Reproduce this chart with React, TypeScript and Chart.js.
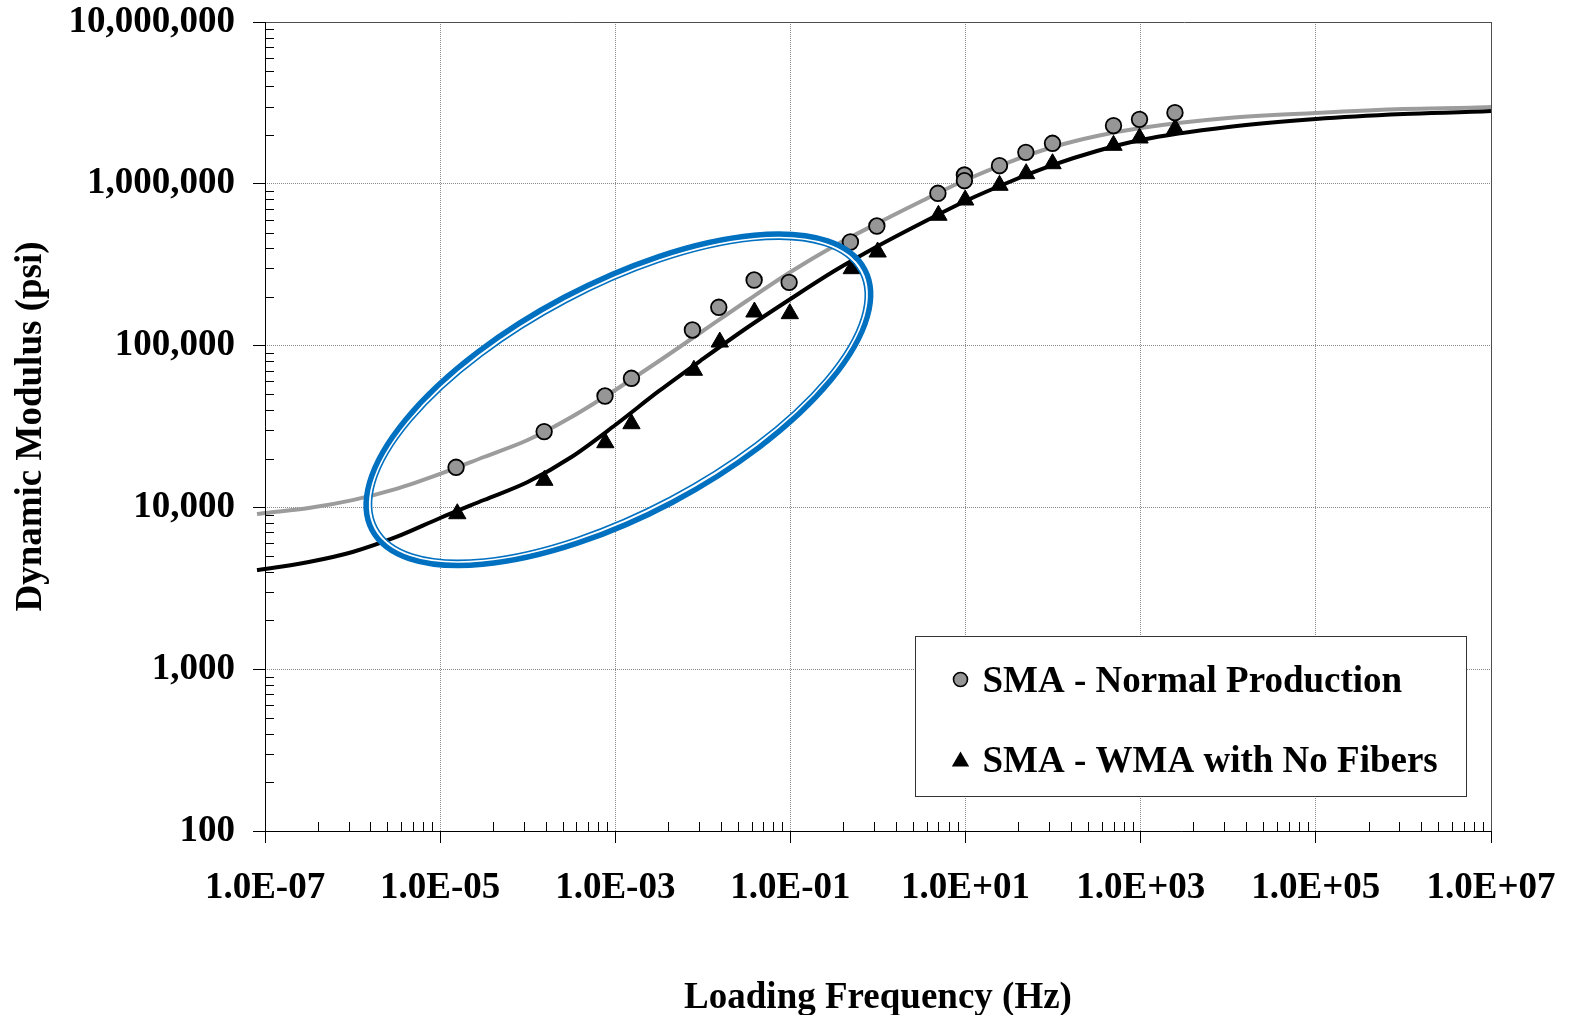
import { useEffect, useRef } from "react";
import { Chart, registerables } from "chart.js";

Chart.register(...registerables);

// ---- data -------------------------------------------------------------
const NP_LABEL = "SMA - Normal Production";
const WMA_LABEL = "SMA - WMA with No Fibers";

// measured dynamic modulus (psi) vs reduced loading frequency (Hz)
const NP_FREQ = [1.52e-5, 1.54e-4, 7.63e-4, 1.53e-3, 7.6e-3, 0.0152, 0.0385, 0.0966, 0.484, 0.97, 4.83, 9.7, 9.7, 24.4, 48.8, 98.3, 489, 969, 2460];
const NP_MOD = [17700, 29400, 48800, 62800, 124900, 172500, 254300, 246000, 436800, 548400, 873600, 1133000, 1045000, 1294000, 1565000, 1780000, 2286000, 2503000, 2750000];

const WMA_FREQ = [1.57e-5, 1.55e-4, 7.7e-4, 1.53e-3, 7.9e-3, 0.0156, 0.0388, 0.0984, 0.502, 0.99, 4.9, 9.9, 24.4, 49.2, 98.4, 489, 969, 2477];
const WMA_MOD = [9140, 14700, 25100, 32900, 70380, 105200, 161300, 157500, 298800, 378800, 638900, 794000, 979000, 1155000, 1331000, 1729000, 1919000, 2190000];

// fitted master curves
const FIT_FREQ = [8.1e-8, 1e-7, 3.16e-7, 1e-6, 3.16e-6, 1e-5, 3.16e-5, 1e-4, 3.16e-4, 1e-3, 3.16e-3, 1e-2, 3.16e-2, 0.1, 0.316, 1, 3.16, 10, 31.6, 100, 316, 1000, 1e4, 1e5, 1e6, 1e7, 1.21e7];
const NP_FIT_MOD = [9103, 9235, 9915, 11095, 13005, 16091, 20489, 26098, 36210, 53182, 80316, 123110, 188680, 284970, 412680, 572410, 783040, 1055600, 1363600, 1688300, 1974300, 2212400, 2550800, 2739000, 2899600, 2983300, 3004600];
const WMA_FIT_MOD = [4103, 4162, 4597, 5302, 6565, 8598, 11108, 14355, 20489, 32300, 52430, 82640, 128480, 194130, 289060, 412680, 572410, 783040, 1025900, 1307100, 1594900, 1865000, 2244100, 2514700, 2700300, 2818100, 2838200];

// axis ticks
const X_TICKS = [1e-7, 1e-5, 1e-3, 1e-1, 1e1, 1e3, 1e5, 1e7];
const X_TICK_LABELS = ["1.0E-07", "1.0E-05", "1.0E-03", "1.0E-01", "1.0E+01", "1.0E+03", "1.0E+05", "1.0E+07"];
const Y_TICKS = [100, 1000, 10000, 100000, 1000000, 10000000];
const Y_TICK_LABELS = ["100", "1,000", "10,000", "100,000", "1,000,000", "10,000,000"];

// highlighted low-frequency region: ends of the ellipse's long axis
const HIGHLIGHT_FREQ = [1.667e-6, 0.706];
const HIGHLIGHT_MOD = [7251, 295300];

// ---- styling ----------------------------------------------------------
const FONT_FAMILY = "'Liberation Serif', 'Times New Roman', Times, serif";
const GRAY = "#9c9c9c";
const MARKER_GRAY = "#969696";
const BLUE = "#0070c0";

const toPoints = (xs: number[], ys: number[]) => xs.map((x, i) => ({ x, y: ys[i] }));

const clearPadding = (scale: any) => {
  scale.paddingTop = 0;
  scale.paddingBottom = 0;
  scale.paddingLeft = 0;
  scale.paddingRight = 0;
};

const axisDecorations = {
  id: "axisDecorations",
  afterDatasetsDraw(chart: any) {
    const { ctx, chartArea: ca } = chart;
    const xs = chart.scales.x;
    const ys = chart.scales.y;
    ctx.save();
    ctx.lineWidth = 1;
    // top and right frame
    ctx.strokeStyle = "#4d4d4d";
    ctx.beginPath();
    ctx.moveTo(ca.left, Math.round(ca.top) + 0.5);
    ctx.lineTo(ca.right, Math.round(ca.top) + 0.5);
    ctx.moveTo(Math.round(ca.right) + 0.5, ca.top);
    ctx.lineTo(Math.round(ca.right) + 0.5, ca.bottom);
    ctx.stroke();
    // axis lines
    ctx.strokeStyle = "#000";
    ctx.beginPath();
    ctx.moveTo(Math.round(ca.left) + 0.5, ca.top);
    ctx.lineTo(Math.round(ca.left) + 0.5, ca.bottom);
    ctx.moveTo(ca.left - 12, Math.round(ca.bottom) + 0.5);
    ctx.lineTo(ca.right, Math.round(ca.bottom) + 0.5);
    ctx.stroke();
    // minor ticks, pointing into the plot
    ctx.beginPath();
    for (let e = -7; e < 7; e += 2) {
      for (let k = 2; k <= 9; k++) {
        const px = Math.round(xs.getPixelForValue(Math.pow(10, e) * k * k)) + 0.5;
        ctx.moveTo(px, ca.bottom);
        ctx.lineTo(px, ca.bottom - 9);
      }
    }
    for (let e = 2; e < 7; e++) {
      for (let k = 2; k <= 9; k++) {
        const py = Math.round(ys.getPixelForValue(Math.pow(10, e) * k)) + 0.5;
        ctx.moveTo(ca.left, py);
        ctx.lineTo(ca.left + 9, py);
      }
    }
    ctx.stroke();
    ctx.restore();
  },
};

const highlightEllipse = {
  id: "highlightEllipse",
  afterDatasetsDraw(chart: any) {
    const { ctx } = chart;
    const xs = chart.scales.x;
    const ys = chart.scales.y;
    const x1 = xs.getPixelForValue(HIGHLIGHT_FREQ[0]);
    const y1 = ys.getPixelForValue(HIGHLIGHT_MOD[0]);
    const x2 = xs.getPixelForValue(HIGHLIGHT_FREQ[1]);
    const y2 = ys.getPixelForValue(HIGHLIGHT_MOD[1]);
    const cx = (x1 + x2) / 2;
    const cy = (y1 + y2) / 2;
    const a = Math.hypot(x2 - x1, y2 - y1) / 2;
    const ang = Math.atan2(y2 - y1, x2 - x1);
    const b = 115.9;
    const ring = (ra: number, rb: number, w: number, color: string) => {
      ctx.beginPath();
      ctx.ellipse(cx, cy, ra, rb, ang, 0, Math.PI * 2);
      ctx.lineWidth = w;
      ctx.strokeStyle = color;
      ctx.stroke();
    };
    ctx.save();
    ring(a - 3.8, b - 3.8, 2.4, "#ffffff");
    ring(a, b, 5.5, BLUE);
    ring(a - 5.6, b - 5.6, 1.6, BLUE);
    ctx.restore();
  },
};

const boxLegend = {
  id: "boxLegend",
  afterDraw(chart: any) {
    const { ctx, chartArea: ca } = chart;
    const left = Math.round(ca.left + 650) + 0.5;
    const top = Math.round(ca.top + 614) + 0.5;
    const w = 551;
    const h = 160;
    ctx.save();
    ctx.fillStyle = "#fff";
    ctx.fillRect(left, top, w, h);
    ctx.strokeStyle = "#333";
    ctx.lineWidth = 1;
    ctx.strokeRect(left, top, w, h);

    const mx = left + 45;
    const y1 = top + 43;
    const y2 = top + 123;
    // circle marker
    ctx.beginPath();
    ctx.arc(mx, y1, 7, 0, Math.PI * 2);
    ctx.fillStyle = MARKER_GRAY;
    ctx.fill();
    ctx.lineWidth = 1.6;
    ctx.strokeStyle = "#000";
    ctx.stroke();
    // triangle marker
    const r = 10;
    ctx.beginPath();
    for (let i = 0; i < 3; i++) {
      const t = (i * 2 * Math.PI) / 3;
      const px = mx + Math.sin(t) * r;
      const py = y2 + 2 - Math.cos(t) * r;
      if (i === 0) ctx.moveTo(px, py);
      else ctx.lineTo(px, py);
    }
    ctx.closePath();
    ctx.fillStyle = "#000";
    ctx.fill();

    ctx.fillStyle = "#000";
    ctx.font = `bold 37px ${FONT_FAMILY}`;
    ctx.textBaseline = "middle";
    ctx.textAlign = "left";
    ctx.fillText(NP_LABEL, left + 67, y1 + 3);
    ctx.fillText(WMA_LABEL, left + 67, y2 + 3);
    ctx.restore();
  },
};

export default function App() {
  const canvasRef = useRef<HTMLCanvasElement | null>(null);

  useEffect(() => {
    const canvas = canvasRef.current;
    if (!canvas) return;
    const tickFont = { family: FONT_FAMILY, size: 37, weight: "bold" as const, lineHeight: 1 };
    const xTitleFont = { family: FONT_FAMILY, size: 37, weight: "bold" as const, lineHeight: 0.88 };
    const yTitleFont = { family: FONT_FAMILY, size: 37, weight: "bold" as const, lineHeight: 1.2 };

    const chart = new Chart(canvas, {
      type: "scatter",
      data: {
        datasets: [
          {
            label: NP_LABEL,
            data: toPoints(NP_FREQ, NP_MOD),
            pointStyle: "circle",
            pointRadius: 7.8,
            pointBorderWidth: 1.8,
            backgroundColor: MARKER_GRAY,
            borderColor: "#000",
            showLine: false,
            order: 0,
          },
          {
            label: WMA_LABEL,
            data: toPoints(WMA_FREQ, WMA_MOD),
            pointStyle: "triangle",
            pointRadius: 10,
            pointBorderWidth: 1,
            backgroundColor: "#000",
            borderColor: "#000",
            showLine: false,
            order: 1,
          },
          {
            label: WMA_LABEL + " fit",
            data: toPoints(FIT_FREQ, WMA_FIT_MOD),
            showLine: true,
            pointRadius: 0,
            borderColor: "#000",
            borderWidth: 4,
            cubicInterpolationMode: "monotone",
            clip: 10,
            order: 2,
          },
          {
            label: NP_LABEL + " fit",
            data: toPoints(FIT_FREQ, NP_FIT_MOD),
            showLine: true,
            pointRadius: 0,
            borderColor: GRAY,
            borderWidth: 4,
            cubicInterpolationMode: "monotone",
            clip: 10,
            order: 3,
          },
        ],
      },
      options: {
        animation: false,
        responsive: false,
        devicePixelRatio: 1,
        layout: { padding: { top: 22, right: 78, bottom: 0, left: 0 } },
        plugins: {
          legend: { display: false },
          tooltip: { enabled: false },
        },
        scales: {
          x: {
            type: "logarithmic",
            position: "bottom",
            min: 1e-7,
            max: 1e7,
            afterBuildTicks: (scale: any) => {
              scale.ticks = X_TICKS.map((value) => ({ value }));
            },
            afterFit: (scale: any) => {
              scale.height = 184;
              clearPadding(scale);
            },
            ticks: {
              autoSkip: false,
              maxRotation: 0,
              minRotation: 0,
              padding: 27,
              color: "#000",
              font: tickFont,
              callback: (_v: any, i: number) => X_TICK_LABELS[i],
            },
            grid: {
              color: "#8a8a8a",
              lineWidth: 1,
              tickLength: 12,
              tickColor: "#000",
              tickWidth: 1,
              borderDash: [1, 1],
            } as any,
            border: { display: false, dash: [1, 1] } as any,
            title: {
              display: true,
              text: "Loading Frequency (Hz)",
              color: "#000",
              font: xTitleFont,
              padding: { top: 0, bottom: 0 },
            },
          },
          y: {
            type: "logarithmic",
            position: "left",
            min: 100,
            max: 1e7,
            afterBuildTicks: (scale: any) => {
              scale.ticks = Y_TICKS.map((value) => ({ value }));
            },
            afterFit: (scale: any) => {
              scale.width = 265;
              clearPadding(scale);
            },
            ticks: {
              autoSkip: false,
              padding: 18,
              color: "#000",
              font: tickFont,
              callback: (_v: any, i: number) => Y_TICK_LABELS[i],
            },
            grid: {
              color: "#8a8a8a",
              lineWidth: 1,
              tickLength: 12,
              tickColor: "#000",
              tickWidth: 1,
              borderDash: [1, 1],
            } as any,
            border: { display: false, dash: [1, 1] } as any,
            title: {
              display: true,
              text: "Dynamic Modulus (psi)",
              color: "#000",
              font: yTitleFont,
              padding: { top: 9, bottom: 0 },
            },
          },
        },
      },
      plugins: [axisDecorations, highlightEllipse, boxLegend],
    });

    return () => chart.destroy();
  }, []);

  return (
    <div style={{ position: "absolute", left: 0, top: 0, width: 1569, height: 1015, background: "#fff" }}>
      <canvas ref={canvasRef} width={1569} height={1015} style={{ display: "block" }} />
    </div>
  );
}
